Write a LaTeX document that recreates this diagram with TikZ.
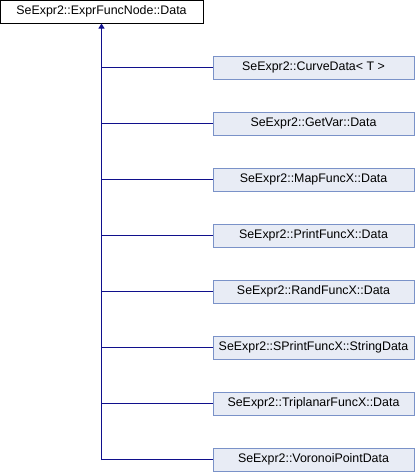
\documentclass[tikz,border=0pt]{standalone}
\usepackage{fontspec}
\setmainfont{Liberation Sans}
\usetikzlibrary{arrows.meta}
\definecolor{childfill}{RGB}{232,236,245}
\definecolor{childdraw}{RGB}{122,146,200}
\definecolor{edge}{RGB}{16,16,140}
\tikzset{
  base/.style={draw=black, fill=white, line width=1pt, minimum width=203pt, minimum height=23pt, inner sep=0pt, font=\fontsize{12.4pt}{14pt}\selectfont},
  child/.style={draw=childdraw, fill=childfill, line width=1pt, minimum width=201pt, minimum height=23pt, inner sep=0pt, font=\fontsize{12.4pt}{14pt}\selectfont},
  inh/.style={draw=edge, line width=1pt},
  tip/.style={-{Triangle[length=5pt,width=6pt]}}
}
\begin{document}
\begin{tikzpicture}[x=1pt,y=-1pt]
\useasboundingbox (0,0) rectangle (416,472);
\node[base] (p) at (101.5,11.5) {SeExpr2::ExprFuncNode::Data};
\node[child] (c1) at (313.5,67.5) {SeExpr2::CurveData< T >};
\node[child] (c2) at (313.5,123.5) {SeExpr2::GetVar::Data};
\node[child] (c3) at (313.5,179.5) {SeExpr2::MapFuncX::Data};
\node[child] (c4) at (313.5,235.5) {SeExpr2::PrintFuncX::Data};
\node[child] (c5) at (313.5,291.5) {SeExpr2::RandFuncX::Data};
\node[child] (c6) at (313.5,347.5) {SeExpr2::SPrintFuncX::StringData};
\node[child] (c7) at (313.5,403.5) {SeExpr2::TriplanarFuncX::Data};
\node[child] (c8) at (313.5,459.5) {SeExpr2::VoronoiPointData};
\coordinate (bot) at (101.5,460);
\draw[inh, tip] (bot) -- (p.south);
\foreach \i in {1,...,8} {
  \draw[inh] (c\i.west) -- (101.5,0 |- c\i.west);
}
\end{tikzpicture}
\end{document}
